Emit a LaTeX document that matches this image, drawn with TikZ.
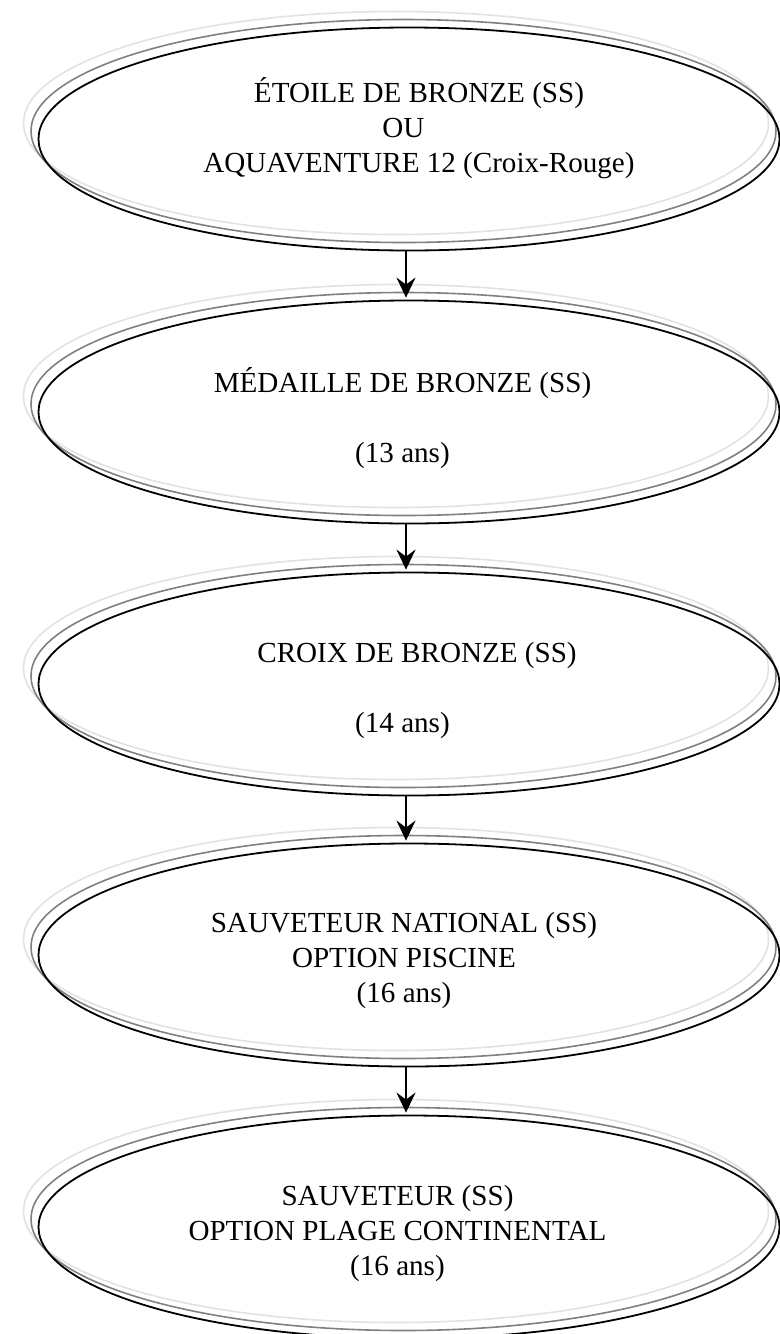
\documentclass[tikz,border=0pt]{standalone}
\usepackage{fontspec}
\setmainfont{Liberation Serif}
\usetikzlibrary{shapes.geometric, arrows.meta}

\definecolor{ringgray}{RGB}{128,128,128}
\definecolor{ringlight}{RGB}{226,226,226}

\tikzset{
  ring/.style={ellipse, draw, line width=0.9pt, minimum width=370.5pt, minimum height=111.5pt, inner sep=0pt},
  shadowring/.style={ring, line width=0.8pt, minimum width=372.5pt},
  steptext/.style={align=center, inner sep=0pt, font=\fontsize{14.55}{17.5}\selectfont},
}

\begin{document}
\begin{tikzpicture}[x=0.5pt, y=0.5pt, >={Stealth[length=10pt, width=9.5pt, inset=3.5pt]}]
  \useasboundingbox (0,0) rectangle (780,-1334);

  % Centres of the five rings
  \coordinate (c1) at (409,-139);
  \coordinate (c2) at (409,-412);
  \coordinate (c3) at (409,-684);
  \coordinate (c4) at (409,-955);
  \coordinate (c5) at (409,-1227);

  % Shadow rings (two grey copies, shifted up and left)
  \foreach \i in {1,...,5} {
    \node[shadowring, draw=ringlight] (sb\i) at ([shift={(-13,16)}]c\i) {};
    \node[shadowring, draw=ringgray] (sa\i) at ([shift={(-5.5,8)}]c\i) {};
  }

  % Rings
  \node[ring] (e1) at (c1) {};
  \node[ring] (e2) at (c2) {};
  \node[ring] (e3) at (c3) {};
  \node[ring] (e4) at (c4) {};
  \node[ring] (e5) at (c5) {};

  % Texts
  \node[steptext] (t1) at (419,-128) {ÉTOILE DE BRONZE (SS)\\\hspace*{-15.5pt}OU\\AQUAVENTURE 12 (Croix-Rouge)};
  \node[steptext] (t2) at (402.5,-418) {MÉDAILLE DE BRONZE (SS)\\[17.5pt](13 ans)};
  \node[steptext] (t3) at (417,-690) {CROIX DE BRONZE (SS)\\[17.5pt]\hspace*{-14.5pt}(14 ans)};
  \node[steptext] (t4) at (404,-960) {SAUVETEUR NATIONAL (SS)\\OPTION PISCINE\\(16 ans)};
  \node[steptext] (t5) at (397.5,-1233) {SAUVETEUR (SS)\\OPTION PLAGE CONTINENTAL\\(16 ans)};

  % Arrows
  \draw[->, line width=1pt, shorten >=1pt] ([xshift=-1.5pt]e1.south) -- ([xshift=-1.5pt]e2.north);
  \draw[->, line width=1pt, shorten >=1pt] ([xshift=-1.5pt]e2.south) -- ([xshift=-1.5pt]e3.north);
  \draw[->, line width=1pt, shorten >=1pt] ([xshift=-1.5pt]e3.south) -- ([xshift=-1.5pt]e4.north);
  \draw[->, line width=1pt, shorten >=1pt] ([xshift=-1.5pt]e4.south) -- ([xshift=-1.5pt]e5.north);
\end{tikzpicture}
\end{document}
